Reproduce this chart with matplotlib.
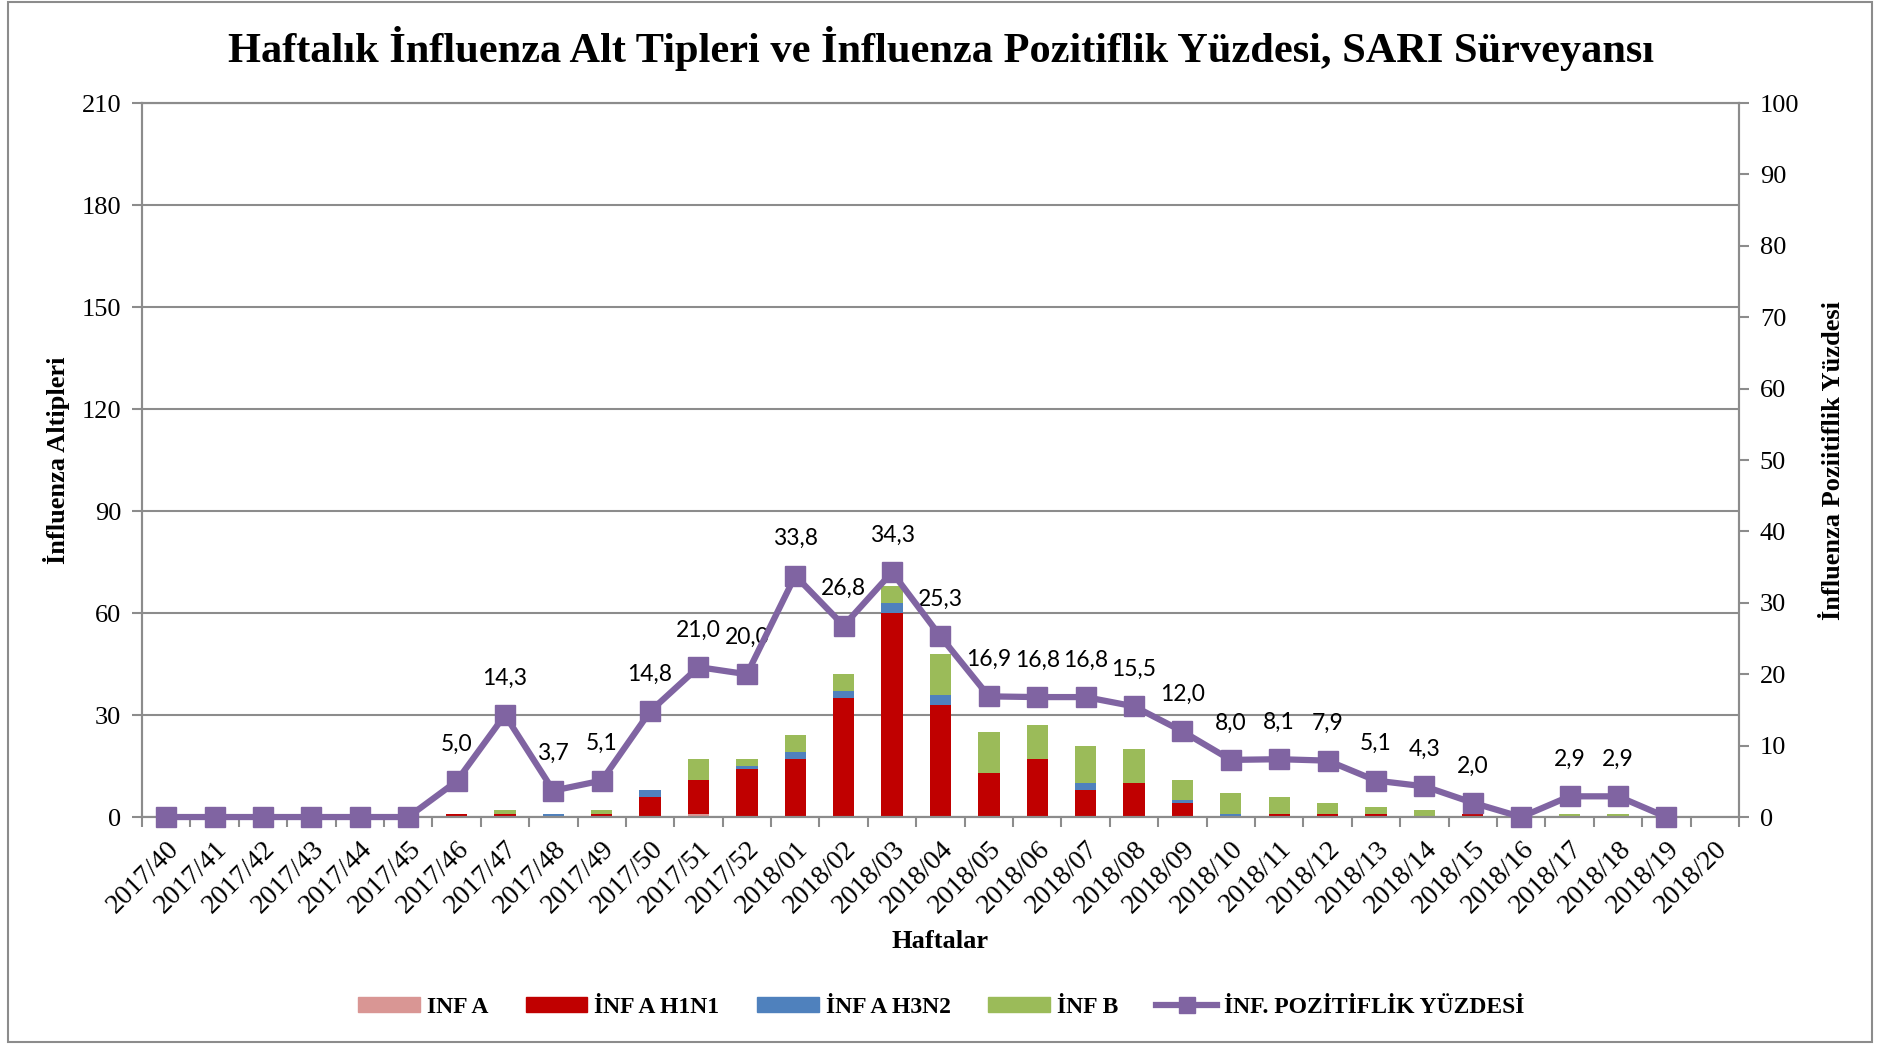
import matplotlib
matplotlib.use("Agg")
import matplotlib.pyplot as plt
from matplotlib.patches import Patch, Rectangle
from matplotlib.lines import Line2D
import numpy as np

# weekly counts, 2017/40 .. 2018/20
weeks = [f"2017/{w}" for w in range(40, 53)] + [f"2018/{w:02d}" for w in range(1, 21)]
inf_a = [0, 0, 0, 0, 0, 0, 0, 0, 0, 0, 0, 1, 0,
         0, 0, 0, 0, 0, 0, 0, 0, 0, 0, 0, 0, 0, 0, 0, 0, 0, 0, 0, 0]
inf_a_h1n1 = [0, 0, 0, 0, 0, 0, 1, 1, 0, 1, 6, 10, 14,
              17, 35, 60, 33, 13, 17, 8, 10, 4, 0, 1, 1, 1, 0, 1, 0, 0, 0, 0, 0]
inf_a_h3n2 = [0, 0, 0, 0, 0, 0, 0, 0, 1, 0, 2, 0, 1,
              2, 2, 3, 3, 0, 0, 2, 0, 1, 1, 0, 0, 0, 0, 0, 0, 0, 0, 0, 0]
inf_b = [0, 0, 0, 0, 0, 0, 0, 1, 0, 1, 0, 6, 2,
         5, 5, 5, 12, 12, 10, 11, 10, 6, 6, 5, 3, 2, 2, 0, 0, 1, 1, 0, 0]
# positivity (%), 2017/40 .. 2018/19
positivity = [0, 0, 0, 0, 0, 0, 5.0, 14.3, 3.7, 5.1, 14.8, 21.0, 20.0,
              33.8, 26.8, 34.3, 25.3, 16.9, 16.8, 16.8, 15.5, 12.0, 8.0, 8.1,
              7.9, 5.1, 4.3, 2.0, 0, 2.9, 2.9, 0]

C_A, C_H1, C_H3, C_B = "#D99694", "#C00000", "#4F81BD", "#9BBB59"
C_LINE = "#8064A2"
GRID = "#8C8C8C"
SERIF = "Liberation Serif"

fig = plt.figure(figsize=(18.83, 10.44), dpi=100)
ax = fig.add_axes([0.0754, 0.2174, 0.8481, 0.6839])

x = np.arange(len(weeks))
a = np.array(inf_a)
h1 = np.array(inf_a_h1n1)
h3 = np.array(inf_a_h3n2)
b = np.array(inf_b)
w = 0.44
ax.bar(x, a, w, color=C_A, zorder=2)
ax.bar(x, h1, w, bottom=a, color=C_H1, zorder=2)
ax.bar(x, h3, w, bottom=a + h1, color=C_H3, zorder=2)
ax.bar(x, b, w, bottom=a + h1 + h3, color=C_B, zorder=2)

ax.set_xlim(-0.5, len(weeks) - 0.5)
ax.set_ylim(0, 210)
ax.set_yticks(range(0, 211, 30))
ax.yaxis.grid(True, color=GRID, linewidth=1.5, zorder=0)
ax.set_axisbelow(True)
for s in ax.spines.values():
    s.set_color(GRID)
    s.set_linewidth(1.5)
ax.tick_params(axis="y", colors=GRID, length=7, width=1.5, labelcolor="black",
               labelsize=19, pad=8)
for lab in ax.get_yticklabels():
    lab.set_family(SERIF)

ax.set_xticks(x)
ax.set_xticklabels(weeks, rotation=45, ha="right", rotation_mode="anchor",
                   family=SERIF, fontsize=20)
ax.set_xticks(np.arange(-0.5, len(weeks) + 0.5, 1), minor=True)
ax.tick_params(axis="x", which="major", length=0, pad=14)
ax.tick_params(axis="x", which="minor", length=7, width=1.5, colors=GRID)

ax.set_xlabel("Haftalar", family=SERIF, fontsize=19, fontweight="bold", labelpad=8)
ax.set_ylabel("İnfluenza Altipleri", family=SERIF, fontsize=19, fontweight="bold",
              labelpad=8)

ax2 = ax.twinx()
ax2.set_ylim(0, 100)
ax2.set_yticks(range(0, 101, 10))
for s in ax2.spines.values():
    s.set_color(GRID)
    s.set_linewidth(1.5)
ax2.tick_params(axis="y", colors=GRID, length=7, width=1.5, labelcolor="black",
                labelsize=19, pad=8)
for lab in ax2.get_yticklabels():
    lab.set_family(SERIF)
ax2.set_ylabel("İnfluenza Poziitiflik Yüzdesi", family=SERIF, fontsize=19,
               fontweight="bold", labelpad=16, rotation=90)

xp = np.arange(len(positivity))
ax2.plot(xp, positivity, color=C_LINE, linewidth=4.5, marker="s", markersize=14,
         zorder=5, clip_on=False)
for xi, v in zip(xp, positivity):
    if v > 0:
        ax2.annotate(f"{v:.1f}".replace(".", ","), (xi, v), xytext=(0, 19),
                     textcoords="offset points", ha="center", va="bottom",
                     family="Lato", fontsize=16.5)

fig.suptitle("Haftalık İnfluenza Alt Tipleri ve İnfluenza Pozitiflik Yüzdesi, SARI Sürveyansı",
             family=SERIF, fontsize=30.5, fontweight="bold", y=0.954, va="center")

handles = [Patch(color=C_A), Patch(color=C_H1), Patch(color=C_H3), Patch(color=C_B),
           Line2D([], [], color=C_LINE, linewidth=4.5, marker="s", markersize=11)]
labels = ["INF A", "İNF A H1N1", "İNF A H3N2", "İNF B", "İNF. POZİTİFLİK YÜZDESİ"]
fig.legend(handles, labels, loc="center", bbox_to_anchor=(0.5, 0.035), ncol=5,
           frameon=False, prop={"family": SERIF, "size": 17, "weight": "bold"},
           handlelength=2.6, handleheight=0.6, columnspacing=1.6, handletextpad=0.3)

fig.add_artist(Rectangle((0.004, 0.002), 0.99, 0.996, transform=fig.transFigure,
                         fill=False, edgecolor=GRID, linewidth=1.5))

fig.savefig("out.png", dpi=100)
